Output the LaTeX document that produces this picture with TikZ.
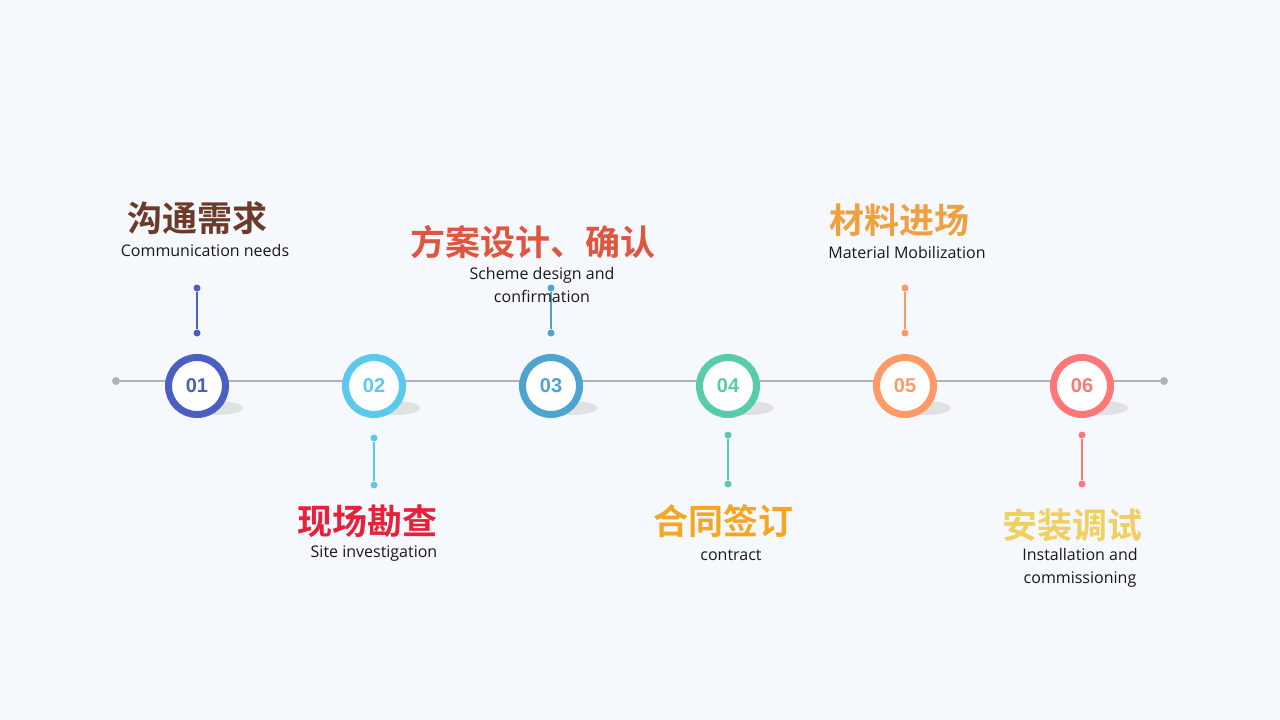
\documentclass[tikz,border=0pt]{standalone}
\usepackage{fontspec}
\setmainfont{Open Sans}
\newfontfamily\numf{Liberation Sans}
\newfontfamily\cjk{Noto Sans CJK SC}[BoldFont={Noto Sans CJK SC Bold}]
\begin{document}
\begin{tikzpicture}[x=1pt,y=-1pt]
\definecolor{bg}{HTML}{F5F8FC}
\definecolor{ca}{HTML}{4A5FC1}\definecolor{cb}{HTML}{5BC8EE}\definecolor{cc}{HTML}{4FA3D1}
\definecolor{cd}{HTML}{57CBAA}\definecolor{ce}{HTML}{FF9966}\definecolor{cf}{HTML}{FF7777}
\definecolor{ta}{HTML}{6B3A2A}\definecolor{tb}{HTML}{E8203A}\definecolor{tc}{HTML}{E05540}
\definecolor{td}{HTML}{F5A623}\definecolor{te}{HTML}{F0A040}\definecolor{tf}{HTML}{F0D060}
\tikzset{ttl/.style={font=\cjk\bfseries\fontsize{35}{38}\selectfont},
 sub/.style={font=\fontsize{16}{23}\selectfont,align=center,text=black!90},
 dotend/.style={circle,fill,inner sep=0pt,minimum size=7pt}}
\fill[bg] (0,0) rectangle (1280,720);
\node[dotend,fill=black!30,minimum size=8pt] (L) at (116,381) {};
\node[dotend,fill=black!30,minimum size=8pt] (R) at (1164,381) {};
\draw[black!30,line width=2pt] (L) -- (R);
\foreach \x/\c/\n/\k in {197/ca/01/a,374/cb/02/b,551/cc/03/c,728/cd/04/d,905/ce/05/e,1082/cf/06/f}{
 \fill[black!20,opacity=0.5] (\x+20,408) ellipse (26 and 7);
 \node[circle,draw=\c,line width=7pt,fill=white,minimum size=57pt,inner sep=0pt,text=\c,font=\numf\bfseries\fontsize{20}{20}\selectfont] (n\k) at (\x,386) {\n};
}
\foreach \x/\c/\a/\b/\k in {197/ca/288/333/a,551/cc/288/333/c,905/ce/288/333/e,374/cb/438/485/b,728/cd/435/484/d,1082/cf/435/484/f}{
 \node[dotend,fill=\c] (p\k) at (\x,\a) {};
 \node[dotend,fill=\c] (q\k) at (\x,\b) {};
 \draw[\c,line width=2pt] (p\k) -- (q\k);
}
\node[ttl,text=ta] (t1) at (197,218) {沟通需求};
\node[sub] (s1) at (205,250) {Communication needs};
\node[ttl,text=tc] (t3) at (533,242) {方案设计、确认};
\node[sub] (s3) at (542,285) {Scheme design and\\confirmation};
\node[ttl,text=te] (t5) at (899,220) {材料进场};
\node[sub] (s5) at (907,252) {Material Mobilization};
\node[ttl,text=tb] (t2) at (367,521) {现场勘查};
\node[sub] (s2) at (374,554) {Site investigation};
\node[ttl,text=td] (t4) at (723,521) {合同签订};
\node[sub] (s4) at (731,555) {contract};
\node[ttl,text=tf] (t6) at (1072,525) {安装调试};
\node[sub] (s6) at (1080,568) {Installation and\\commissioning};
\end{tikzpicture}
\end{document}
